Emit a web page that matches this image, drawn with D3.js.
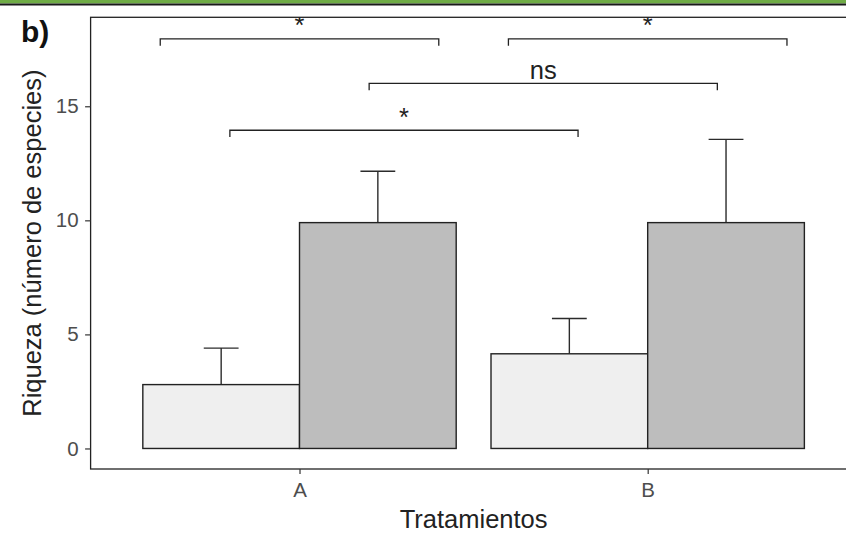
<!DOCTYPE html>
<html>
<head>
<meta charset="utf-8">
<script src="https://cdn.jsdelivr.net/npm/d3@7"></script>
<style>
  html, body { margin: 0; padding: 0; background: #ffffff; }
  svg { display: block; font-family: "Liberation Sans", Arial, sans-serif; }
</style>
</head>
<body>
<script>
// ---- data ----
const categories = ["A", "B"];
const seriesNames = ["grupo1", "grupo2"];
const meanLight = [2.8, 4.15];
const errLight  = [1.6, 1.55];
const meanDark  = [9.9, 9.9];
const errDark   = [2.25, 3.65];
const yTicks = [0, 5, 10, 15];
const bracketXmin = [0.6, 1.6, 1.2, 0.8];
const bracketXmax = [1.4, 2.4, 2.2, 1.8];
const bracketY    = [17.95, 17.95, 16, 13.95];
const bracketLabel = ["*", "*", "ns", "*"];
const fills = ["#efefef", "#bdbdbd"];

const W = 846, H = 536;
const svg = d3.select("body").append("svg").attr("width", W).attr("height", H);

// header band
svg.append("rect").attr("x", 0).attr("y", 0).attr("width", W).attr("height", 3.5).attr("fill", "#6fac46");
svg.append("rect").attr("x", 0).attr("y", 3.5).attr("width", W).attr("height", 2).attr("fill", "#1a1a1a");

const pL = 90.6, pR = 856.6, pT = 17.3, pB = 469;
const x = d3.scaleLinear().domain([0.4, 2.6]).range([pL, pR]);
const y = d3.scaleLinear().domain([-0.9, 18.9]).range([pB, pT]);
const barW = 0.45;

// clip
svg.append("defs").append("clipPath").attr("id", "panel")
  .append("rect").attr("x", pL).attr("y", pT).attr("width", pR - pL).attr("height", pB - pT);

const plot = svg.append("g").attr("clip-path", "url(#panel)");

// bars data
const bars = [];
categories.forEach((c, i) => {
  bars.push({cat: i + 1, off: -barW / 2, mean: meanLight[i], err: errLight[i], fill: fills[0], s: seriesNames[0]});
  bars.push({cat: i + 1, off: barW / 2, mean: meanDark[i], err: errDark[i], fill: fills[1], s: seriesNames[1]});
});

// error bars (upper only)
const capHalf = 0.05;
bars.forEach(b => {
  const cx = b.cat + b.off;
  plot.append("line").attr("x1", x(cx)).attr("x2", x(cx))
    .attr("y1", y(b.mean)).attr("y2", y(b.mean + b.err))
    .attr("stroke", "#2b2b2b").attr("stroke-width", 1.4);
  plot.append("line").attr("x1", x(cx - capHalf)).attr("x2", x(cx + capHalf))
    .attr("y1", y(b.mean + b.err)).attr("y2", y(b.mean + b.err))
    .attr("stroke", "#2b2b2b").attr("stroke-width", 1.4);
});

// bars
plot.selectAll("rect.bar").data(bars).enter().append("rect").attr("class", "bar")
  .attr("x", d => x(d.cat + d.off - barW / 2))
  .attr("width", d => x(d.cat + d.off + barW / 2) - x(d.cat + d.off - barW / 2))
  .attr("y", d => y(d.mean))
  .attr("height", d => y(0) - y(d.mean))
  .attr("fill", d => d.fill)
  .attr("stroke", "#222").attr("stroke-width", 1.4);

// significance brackets
const tip = 0.3;
bracketLabel.forEach((lab, i) => {
  const x1 = x(bracketXmin[i]), x2 = x(bracketXmax[i]), yy = y(bracketY[i]), yt = y(bracketY[i] - tip);
  plot.append("path")
    .attr("d", `M${x1},${yt}L${x1},${yy}L${x2},${yy}L${x2},${yt}`)
    .attr("fill", "none").attr("stroke", "#222").attr("stroke-width", 1.3);
  plot.append("text")
    .attr("x", (x1 + x2) / 2).attr("y", yy - 4.5)
    .attr("text-anchor", "middle")
    .attr("font-size", 25.5).attr("fill", "#222")
    .text(lab);
});

// panel border
svg.append("rect").attr("x", pL).attr("y", pT).attr("width", pR - pL).attr("height", pB - pT)
  .attr("fill", "none").attr("stroke", "#222").attr("stroke-width", 1.3);

// y axis
const yAxis = svg.append("g").attr("transform", `translate(${pL},0)`)
  .call(d3.axisLeft(y).tickValues(yTicks).tickSize(5.5).tickPadding(6.5));
yAxis.select(".domain").remove();
yAxis.selectAll(".tick line").attr("stroke", "#333").attr("stroke-width", 1.2);
yAxis.selectAll(".tick text").attr("font-size", 20.5).attr("fill", "#4d4d4d")
  .attr("font-family", "Liberation Sans, Arial, sans-serif");

// x axis
const xAxis = svg.append("g").attr("transform", `translate(0,${pB})`)
  .call(d3.axisBottom(x).tickValues([1, 2]).tickFormat(d => categories[d - 1]).tickSize(5).tickPadding(8));
xAxis.select(".domain").remove();
xAxis.selectAll(".tick line").attr("stroke", "#333").attr("stroke-width", 1.2);
xAxis.selectAll(".tick text").attr("font-size", 20.5).attr("fill", "#4d4d4d")
  .attr("font-family", "Liberation Sans, Arial, sans-serif");

// axis titles
svg.append("text").attr("x", (pL + pR) / 2).attr("y", 528)
  .attr("text-anchor", "middle").attr("font-size", 25.5).attr("fill", "#222")
  .text("Tratamientos");
svg.append("text").attr("transform", `translate(41,${(pT + pB) / 2}) rotate(-90)`)
  .attr("text-anchor", "middle").attr("font-size", 25.5).attr("fill", "#222")
  .text("Riqueza (número de especies)");

// tag
svg.append("text").attr("x", 21).attr("y", 42)
  .attr("font-size", 30).attr("font-weight", "bold").attr("fill", "#111")
  .text("b)");
</script>
</body>
</html>
